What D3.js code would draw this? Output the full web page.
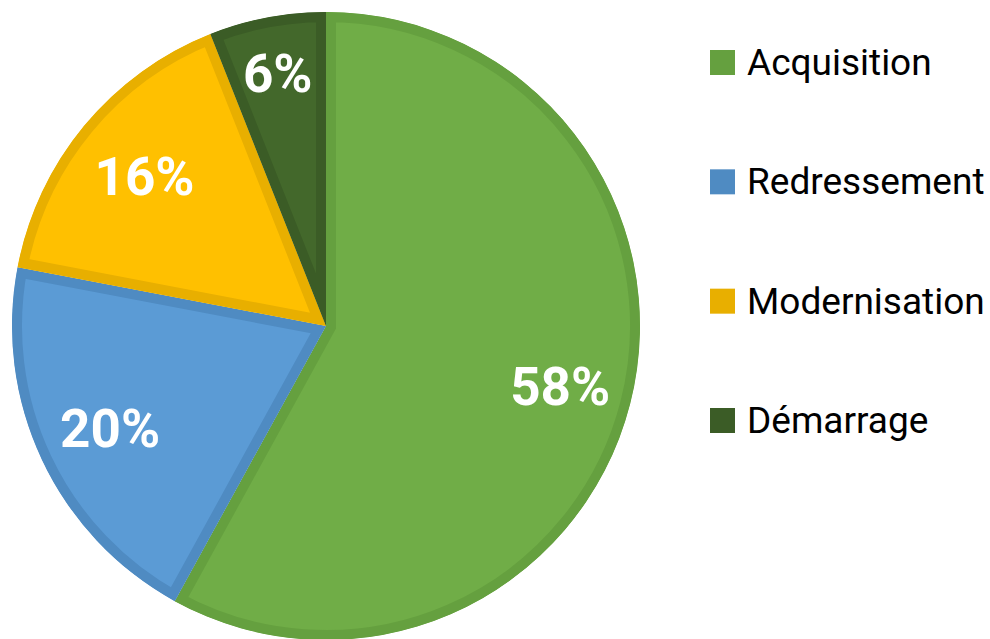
<!DOCTYPE html>
<html>
<head>
<meta charset="utf-8">
<script src="https://cdn.jsdelivr.net/npm/d3@7"></script>
<style>
  html, body { margin: 0; padding: 0; background: #fff; }
  svg { display: block; font-family: Roboto, "Noto Sans", sans-serif; }
</style>
</head>
<body>
<div id="chart"></div>
<script>
const categories = ['Acquisition', 'Redressement', 'Modernisation', 'Démarrage'];
const values = [58, 20, 16, 6];
const fills = ['#70ad47', '#5b9bd5', '#ffc000', '#43682b'];
const strokes = ['#65a03f', '#4f8bc2', '#e8af00', '#3b5c26'];
// distance of each percentage label from centre, as a share of the radius
const labelRadius = [0.77, 0.76, 0.75, 0.82];

const width = 990, height = 639;
const cx = 326, cy = 326, radius = 314;

const svg = d3.select('#chart').append('svg')
  .attr('width', width)
  .attr('height', height);

const pie = d3.pie().sort(null).value(d => d.value);
const arcs = pie(categories.map((c, i) => ({ name: c, value: values[i], i })));
const arc = d3.arc().innerRadius(0).outerRadius(radius);

const chart = svg.append('g').attr('transform', `translate(${cx},${cy})`);
const defs = svg.append('defs');

defs.selectAll('clipPath')
  .data(arcs)
  .enter()
  .append('clipPath')
  .attr('id', d => 'clip' + d.data.i)
  .append('path')
  .attr('d', arc);

// slices with an inner border (stroke clipped to the slice)
chart.selectAll('.slice')
  .data(arcs)
  .enter()
  .append('path')
  .attr('class', 'slice')
  .attr('d', arc)
  .attr('clip-path', d => `url(#clip${d.data.i})`)
  .style('fill', d => fills[d.data.i])
  .style('stroke', d => strokes[d.data.i])
  .style('stroke-width', 20)
  .style('stroke-linejoin', 'miter');

chart.selectAll('.label')
  .data(arcs)
  .enter()
  .append('text')
  .attr('class', 'label')
  .attr('transform', d => {
    const a = (d.startAngle + d.endAngle) / 2;
    const r = radius * labelRadius[d.data.i];
    return `translate(${Math.sin(a) * r},${-Math.cos(a) * r})`;
  })
  .attr('text-anchor', 'middle')
  .attr('dy', '0.36em')
  .style('fill', '#fff')
  .style('font-size', '53px')
  .style('font-weight', 'bold')
  .text(d => d.data.value + '%');

// legend
const y = d3.scalePoint().domain(categories).range([62, 420]);
const legend = svg.selectAll('.legend')
  .data(categories)
  .enter()
  .append('g')
  .attr('class', 'legend')
  .attr('transform', d => `translate(710,${y(d)})`);

legend.append('rect')
  .attr('x', 0)
  .attr('y', -12)
  .attr('width', 25)
  .attr('height', 25)
  .style('fill', (d, i) => strokes[i]);

legend.append('text')
  .attr('x', 37)
  .attr('dy', '0.35em')
  .style('font-size', '37px')
  .style('fill', '#000')
  .text(d => d);
</script>
</body>
</html>
